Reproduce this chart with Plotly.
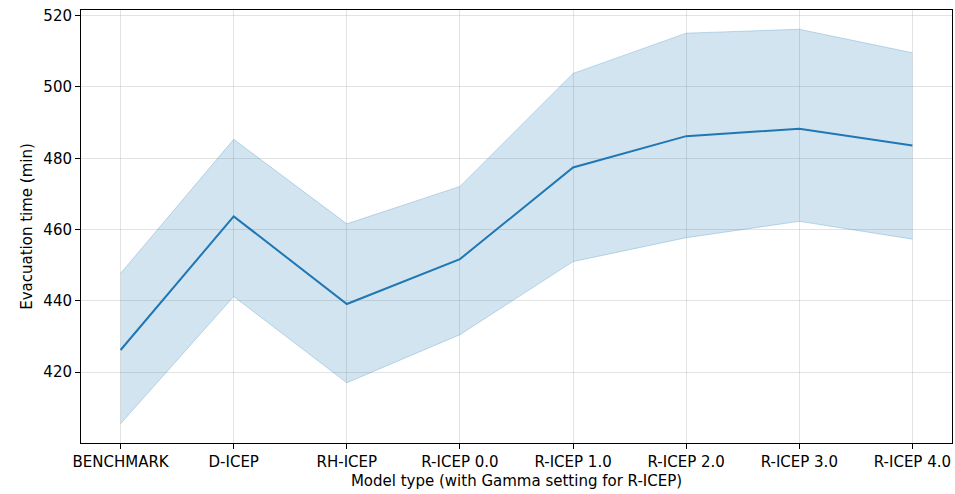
import plotly.graph_objects as go

categories = ["BENCHMARK", "D-ICEP", "RH-ICEP", "R-ICEP 0.0", "R-ICEP 1.0", "R-ICEP 2.0", "R-ICEP 3.0", "R-ICEP 4.0"]
mean_vals = [426.2, 463.7, 439.1, 451.7, 477.4, 486.2, 488.3, 483.6]
upper_vals = [447.7, 485.3, 461.6, 472.1, 503.8, 515.1, 516.2, 509.6]
lower_vals = [405.5, 441.2, 417.0, 430.5, 451.0, 457.7, 462.3, 457.3]
y_ticks = [420, 440, 460, 480, 500, 520]

xs = list(range(len(categories)))
blue = "#1f77b4"

fig = go.Figure()
fig.add_trace(go.Scatter(x=xs, y=upper_vals, mode="lines",
                         line=dict(color="rgba(31,119,180,0.25)", width=1),
                         showlegend=False, hoverinfo="skip"))
fig.add_trace(go.Scatter(x=xs, y=lower_vals, mode="lines", fill="tonexty",
                         fillcolor="rgba(31,119,180,0.2)",
                         line=dict(color="rgba(31,119,180,0.25)", width=1),
                         showlegend=False, hoverinfo="skip"))
fig.add_trace(go.Scatter(x=xs, y=mean_vals, mode="lines",
                         line=dict(color=blue, width=2), showlegend=False))

font = dict(family="DejaVu Sans", size=15, color="black")
title_font = dict(family="DejaVu Sans", size=15, color="black")
fig.update_layout(
    width=955, height=494,
    margin=dict(l=81, r=3, t=10, b=51, autoexpand=False),
    paper_bgcolor="white", plot_bgcolor="white",
    font=font,
    xaxis=dict(range=[-0.35, 7.35], tickmode="array", tickvals=xs, ticktext=categories,
               showline=True, linecolor="black", linewidth=1, mirror=True,
               ticks="outside", ticklen=5, tickcolor="black",
               showgrid=True, gridcolor="rgba(128,128,128,0.22)", gridwidth=1,
               zeroline=False, automargin=False,
               title=dict(text="Model type (with Gamma setting for R-ICEP)", standoff=5,
                          font=title_font)),
    yaxis=dict(range=[400.1, 521.6], tickmode="array", tickvals=y_ticks,
               showline=True, linecolor="black", linewidth=1, mirror=True,
               ticks="outside", ticklen=5, tickcolor="black",
               showgrid=True, gridcolor="rgba(128,128,128,0.22)", gridwidth=1,
               zeroline=False, automargin=False,
               title=dict(text="Evacuation time (min)", standoff=7, font=title_font)),
)
fig.write_html("out.html", config={"displayModeBar": False},
               post_script="document.body.style.margin='0';document.body.style.overflow='hidden';")
